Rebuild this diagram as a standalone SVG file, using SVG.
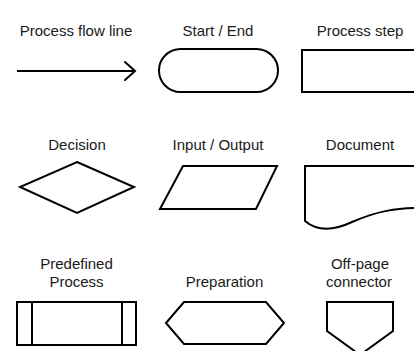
<svg xmlns="http://www.w3.org/2000/svg" width="414" height="351" viewBox="0 0 414 351">
<defs>
<style>
text{font-family:"Liberation Sans",Arial,sans-serif;font-size:15px;fill:#1a1a1a;text-anchor:middle}
.s{fill:#fff;stroke:#000;stroke-width:2;stroke-linejoin:miter}
.ln{fill:none;stroke:#000;stroke-width:2}
</style>
<marker id="chev" markerUnits="userSpaceOnUse" markerWidth="14" markerHeight="22" viewBox="-12 -11 14 22" refX="0" refY="0" orient="auto">
<path d="M-10,-9 L0,0 L-10,9" fill="none" stroke="#000" stroke-width="2" stroke-linecap="round"/>
</marker>
</defs>
<rect width="414" height="351" fill="#fff"/>
<g id="connectors">
<line class="ln" x1="17" y1="71" x2="135" y2="71" marker-end="url(#chev)"/>
</g>
<g id="label-flow"><text x="76" y="36">Process flow line</text></g>
<g id="start-end">
<text x="218" y="36">Start / End</text>
<rect class="s" x="159" y="49" width="119" height="43" rx="21.5" ry="21.5"/>
</g>
<g id="process-step">
<text x="360" y="36">Process step</text>
<rect class="s" x="302" y="50" width="130" height="42"/>
</g>
<g id="decision">
<text x="77" y="150">Decision</text>
<polygon class="s" points="77,162 134,187 77,213 20,187"/>
</g>
<g id="input-output">
<text x="218" y="150">Input / Output</text>
<polygon class="s" points="183,166 277,166 256,209 160,209"/>
</g>
<g id="document">
<text x="360" y="150">Document</text>
<path class="s" d="M305,166 H430 V208 C395,207 375,212 352,222 C335,230 318,232 305,221 Z"/>
</g>
<g id="predefined-process">
<text x="76.5" y="269">Predefined</text>
<text x="76.5" y="287">Process</text>
<rect class="s" x="17" y="302" width="119" height="43"/>
<line class="ln" x1="32" y1="302" x2="32" y2="345"/>
<line class="ln" x1="122" y1="302" x2="122" y2="345"/>
</g>
<g id="preparation">
<text x="224.5" y="287">Preparation</text>
<polygon class="s" points="166,323 184,302 266,302 284,323 266,344 184,344"/>
</g>
<g id="off-page-connector">
<text x="360" y="269">Off-page</text>
<text x="359" y="287">connector</text>
<polygon class="s" points="327,302 393,302 393,331 360,355 327,331"/>
</g>
</svg>
